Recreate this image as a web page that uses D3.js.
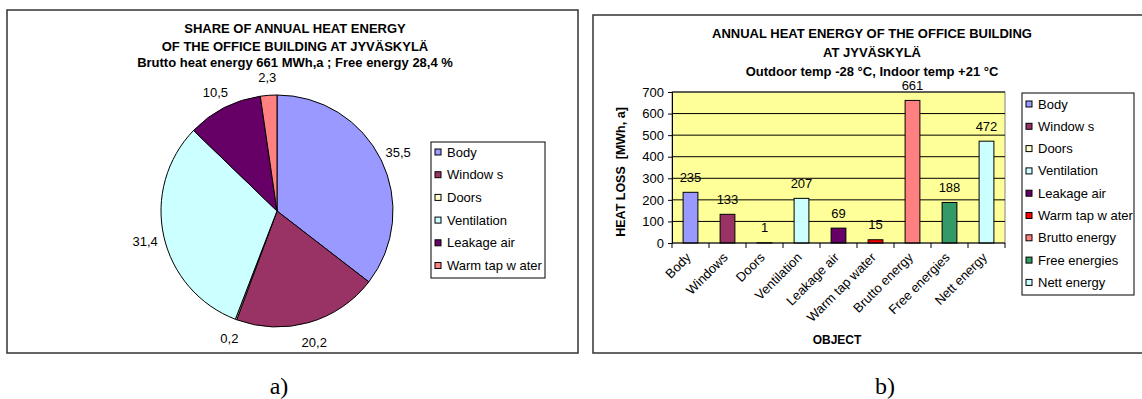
<!DOCTYPE html>
<html>
<head>
<meta charset="utf-8">
<script src="https://cdn.jsdelivr.net/npm/d3@7"></script>
<style>
  html, body { margin: 0; padding: 0; background: #fff; }
  svg { display: block; }
  text { font-family: "Liberation Sans", Arial, sans-serif; fill: #000; }
</style>
</head>
<body>
<svg id="chart" width="1142" height="399"></svg>
<script>
// ---------- data ----------
const pieCategories = ["Body", "Window s", "Doors", "Ventilation", "Leakage air", "Warm tap w ater"];
const pieValues = [35.5, 20.2, 0.2, 31.4, 10.5, 2.3];
const pieColors = ["#9999FF", "#993366", "#FFFFCC", "#CCFFFF", "#660066", "#FF8080"];
const pieTitle = ["SHARE OF ANNUAL HEAT ENERGY", "OF THE OFFICE BUILDING AT JYVÄSKYLÄ", "Brutto heat energy 661 MWh,a ; Free energy 28,4 %"];

const barCategories = ["Body", "Windows", "Doors", "Ventilation", "Leakage air", "Warm tap water", "Brutto energy", "Free energies", "Nett energy"];
const barLegendNames = ["Body", "Window s", "Doors", "Ventilation", "Leakage air", "Warm tap w ater", "Brutto energy", "Free energies", "Nett energy"];
const barValues = [235, 133, 1, 207, 69, 15, 661, 188, 472];
const barColors = ["#9999FF", "#993366", "#FFFFCC", "#CCFFFF", "#660066", "#FF0000", "#FF8080", "#339966", "#CCFFFF"];
const yTicks = [0, 100, 200, 300, 400, 500, 600, 700];
const barTitle = ["ANNUAL HEAT ENERGY OF THE OFFICE BUILDING", "AT JYVÄSKYLÄ", "Outdoor temp -28 °C, Indoor temp +21 °C"];
const yAxisTitle = "HEAT LOSS  [MWh, a]";
const xAxisTitle = "OBJECT";
const captions = ["a)", "b)"];

const svg = d3.select("#chart");
const fiLocale = d3.formatLocale({decimal: ",", thousands: " ", grouping: [3], currency: ["", ""]});
const fmt1 = fiLocale.format(".1f");
const FS = "13px";

// ---------- panel frames ----------
svg.append("rect").attr("x", 7).attr("y", 10).attr("width", 571).attr("height", 343)
  .attr("fill", "#fff").attr("stroke", "#333").attr("stroke-width", 1.5);
svg.append("rect").attr("x", 593).attr("y", 15).attr("width", 560).attr("height", 338)
  .attr("fill", "#fff").attr("stroke", "#333").attr("stroke-width", 1.5);

// ---------- captions ----------
svg.append("text").attr("x", 279).attr("y", 394).attr("text-anchor", "middle")
  .style("font-family", "'Liberation Serif', 'Times New Roman', serif").style("font-size", "24px").text(captions[0]);
svg.append("text").attr("x", 885).attr("y", 394).attr("text-anchor", "middle")
  .style("font-family", "'Liberation Serif', 'Times New Roman', serif").style("font-size", "24px").text(captions[1]);

// ---------- pie chart ----------
const pieG = svg.append("g");
pieTitle.forEach((t, i) => {
  pieG.append("text").attr("x", 295).attr("y", [28, 46, 62.5][i]).attr("dy", "0.35em")
    .attr("text-anchor", "middle").style("font-size", "13px").style("font-weight", "bold").text(t);
});
const R = 116;
const cx = 277, cy = 211;
const pie = d3.pie().sort(null).value(d => d.v);
const arcs = pie(pieValues.map((v, i) => ({v, i})));
const arc = d3.arc().innerRadius(0).outerRadius(R);
const labelArc = d3.arc().innerRadius(R + 19).outerRadius(R + 19);
const pg = pieG.append("g").attr("transform", `translate(${cx},${cy})`);
pg.selectAll("path").data(arcs).join("path")
  .attr("d", arc).attr("fill", d => pieColors[d.data.i])
  .attr("stroke", "#000").attr("stroke-width", 1).attr("stroke-linejoin", "round");
pg.selectAll("text").data(arcs).join("text")
  .attr("transform", d => `translate(${labelArc.centroid(d)})`)
  .attr("text-anchor", "middle").attr("dy", "0.45em")
  .style("font-size", FS).text(d => fmt1(d.data.v));

// pie legend
const pl = svg.append("g").attr("transform", "translate(431,142)");
pl.append("rect").attr("width", 114).attr("height", 136).attr("fill", "#fff").attr("stroke", "#000").attr("stroke-width", 1);
pieCategories.forEach((c, i) => {
  const y = 10 + i * 22.7;
  pl.append("rect").attr("x", 4).attr("y", y - 3).attr("width", 6).attr("height", 6)
    .attr("fill", pieColors[i]).attr("stroke", "#000").attr("stroke-width", 1);
  pl.append("text").attr("x", 16).attr("y", y).attr("dy", "0.35em").style("font-size", FS).text(c);
});

// ---------- bar chart ----------
const bg = svg.append("g");
barTitle.forEach((t, i) => {
  bg.append("text").attr("x", 872).attr("y", [33, 52, 71][i]).attr("dy", "0.35em")
    .attr("text-anchor", "middle").style("font-size", "13px").style("font-weight", "bold").text(t);
});
const plot = {left: 672, right: 1005, top: 92, bottom: 243};
const x = d3.scaleBand().domain(barCategories).range([plot.left, plot.right]).padding(0);
const y = d3.scaleLinear().domain([0, 700]).range([plot.bottom, plot.top]);

bg.append("rect").attr("x", plot.left).attr("y", plot.top)
  .attr("width", plot.right - plot.left).attr("height", plot.bottom - plot.top)
  .attr("fill", "#FFFF99").attr("stroke", "#808080").attr("stroke-width", 1);
bg.selectAll("line.grid").data(yTicks.filter(d => d > 0)).join("line").attr("class", "grid")
  .attr("x1", plot.left).attr("x2", plot.right)
  .attr("y1", d => y(d)).attr("y2", d => y(d)).attr("stroke", "#000").attr("stroke-width", 1);

const barW = x.bandwidth() * 0.4;
bg.selectAll("rect.bar").data(barValues).join("rect").attr("class", "bar")
  .attr("x", (d, i) => x(barCategories[i]) + (x.bandwidth() - barW) / 2)
  .attr("y", d => y(d)).attr("width", barW).attr("height", d => y(0) - y(d))
  .attr("fill", (d, i) => barColors[i]).attr("stroke", "#000").attr("stroke-width", 1);
bg.selectAll("text.val").data(barValues).join("text").attr("class", "val")
  .attr("x", (d, i) => x(barCategories[i]) + x.bandwidth() / 2)
  .attr("y", d => y(d) - 15).attr("dy", "0.35em").attr("text-anchor", "middle")
  .style("font-size", FS).text(d => d);

// y axis
const yAxis = d3.axisLeft(y).tickValues(yTicks).tickSize(4).tickPadding(4);
const yg = bg.append("g").attr("transform", `translate(${plot.left},0)`).call(yAxis);
yg.select(".domain").attr("stroke", "#000");
yg.selectAll(".tick line").attr("stroke", "#000");
yg.selectAll(".tick text").style("font-size", FS).style("font-family", "'Liberation Sans', Arial, sans-serif").attr("fill", "#000");

// x axis
const xAxis = d3.axisBottom(x).tickSize(0).tickFormat("");
const xg = bg.append("g").attr("transform", `translate(0,${plot.bottom})`).call(xAxis);
xg.select(".domain").remove();
bg.append("line").attr("x1", plot.left).attr("x2", plot.right).attr("y1", plot.bottom).attr("y2", plot.bottom).attr("stroke", "#000");
const tickPos = barCategories.map(c => x(c)).concat([x.range()[1]]);
bg.selectAll("line.xt").data(tickPos).join("line").attr("class", "xt")
  .attr("x1", d => d).attr("x2", d => d).attr("y1", plot.bottom).attr("y2", plot.bottom + 5)
  .attr("stroke", "#000");
bg.selectAll("text.xl").data(barCategories).join("text").attr("class", "xl")
  .attr("transform", d => `translate(${x(d) + x.bandwidth() / 2 - 2},${plot.bottom + 12}) rotate(-45)`)
  .attr("text-anchor", "end").attr("dy", "0.35em").style("font-size", FS).text(d => d);

// axis titles
bg.append("text").attr("transform", `translate(621,172) rotate(-90)`).attr("text-anchor", "middle")
  .attr("dy", "0.35em").style("font-size", "12.5px").style("font-weight", "bold").style("white-space", "pre")
  .attr("xml:space", "preserve").text(yAxisTitle);
bg.append("text").attr("x", 837).attr("y", 340).attr("dy", "0.35em").attr("text-anchor", "middle")
  .style("font-size", "12px").style("font-weight", "bold").text(xAxisTitle);

// bar legend
const bl = svg.append("g").attr("transform", "translate(1022,93)");
bl.append("rect").attr("width", 112).attr("height", 202).attr("fill", "#fff").attr("stroke", "#000").attr("stroke-width", 1);
barLegendNames.forEach((c, i) => {
  const yy = 11 + i * 22.3;
  bl.append("rect").attr("x", 4).attr("y", yy - 3).attr("width", 6).attr("height", 6)
    .attr("fill", barColors[i]).attr("stroke", "#000").attr("stroke-width", 1);
  bl.append("text").attr("x", 16).attr("y", yy).attr("dy", "0.35em").style("font-size", FS).text(c);
});
</script>
</body>
</html>
